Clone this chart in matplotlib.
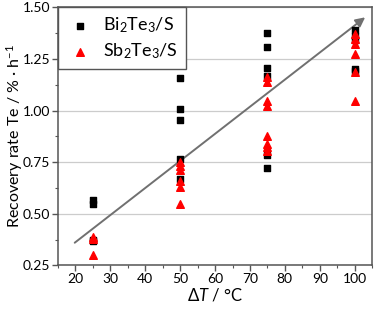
import matplotlib
matplotlib.use('Agg')
import matplotlib.pyplot as plt
from matplotlib.ticker import MultipleLocator

plt.rcParams['font.family'] = ['Lato', 'DejaVu Sans']
plt.rcParams['mathtext.fontset'] = 'custom'
plt.rcParams['mathtext.rm'] = 'Lato'
plt.rcParams['mathtext.it'] = 'Lato:italic'

# Bi2Te3/S
bi_x = [25, 25, 25, 25,
        50, 50, 50, 50, 50,
        75, 75, 75, 75, 75, 75,
        100, 100, 100, 100, 100]
bi_y = [0.565, 0.55, 0.375, 0.37,
        1.16, 1.007, 0.954, 0.767, 0.671,
        1.375, 1.31, 1.205, 1.17, 0.785, 0.72,
        1.39, 1.36, 1.34, 1.20, 1.19]

# Sb2Te3/S
sb_x = [25, 25, 25,
        50, 50, 50, 50, 50, 50,
        75, 75, 75, 75, 75, 75, 75, 75,
        100, 100, 100, 100, 100, 100]
sb_y = [0.39, 0.38, 0.30,
        0.753, 0.732, 0.713, 0.661, 0.632, 0.547,
        1.165, 1.14, 1.045, 1.02, 0.875, 0.84, 0.825, 0.805,
        1.37, 1.345, 1.325, 1.275, 1.185, 1.045]

# trend arrow (start, end)
trend_x = [19.8, 103.0]
trend_y = [0.36, 1.452]

fig = plt.figure(figsize=(3.74, 3.09), dpi=100)
ax = fig.add_axes([0.155, 0.141, 0.84, 0.835])

ax.grid(axis='y', color='#cccccc', lw=0.9, zorder=0)
ax.annotate('', xy=(trend_x[1], trend_y[1]), xytext=(trend_x[0], trend_y[0]),
            arrowprops=dict(arrowstyle='-|>', color='#707070', lw=1.4,
                            mutation_scale=14, shrinkA=0, shrinkB=0), zorder=2)
ax.scatter(bi_x, bi_y, marker='s', s=20, color='black', zorder=3, label='Bi$_2$Te$_3$/S')
ax.scatter(sb_x, sb_y, marker='^', s=30, color='red', zorder=4, label='Sb$_2$Te$_3$/S')

ax.set_xlim(15, 105)
ax.set_ylim(0.25, 1.5)
ax.xaxis.set_major_locator(MultipleLocator(10))
ax.xaxis.set_minor_locator(MultipleLocator(5))
ax.yaxis.set_major_locator(MultipleLocator(0.25))
ax.yaxis.set_minor_locator(MultipleLocator(0.125))
ax.yaxis.set_major_formatter(plt.FormatStrFormatter('%.2f'))
ax.tick_params(which='major', length=4, width=1, color='#555555', labelsize=10, pad=1.5)
ax.tick_params(which='minor', length=2.5, width=0.8, color='#555555')
for s in ax.spines.values():
    s.set_color('#555555')
    s.set_linewidth(1.1)

ax.set_xlabel('Δ$T$ / °C', fontsize=12, labelpad=1)
ax.set_ylabel('Recovery rate Te / % · h$^{-1}$', fontsize=11.5)
ax.yaxis.set_label_coords(-0.105, 0.5)

leg = ax.legend(loc='upper left', borderaxespad=0, fontsize=13, fancybox=False,
                framealpha=1, edgecolor='#555555', handletextpad=0.55,
                borderpad=0.45, labelspacing=0.35, handlelength=1.5)
leg.get_frame().set_linewidth(1.0)

fig.savefig('out.png', dpi=100)
